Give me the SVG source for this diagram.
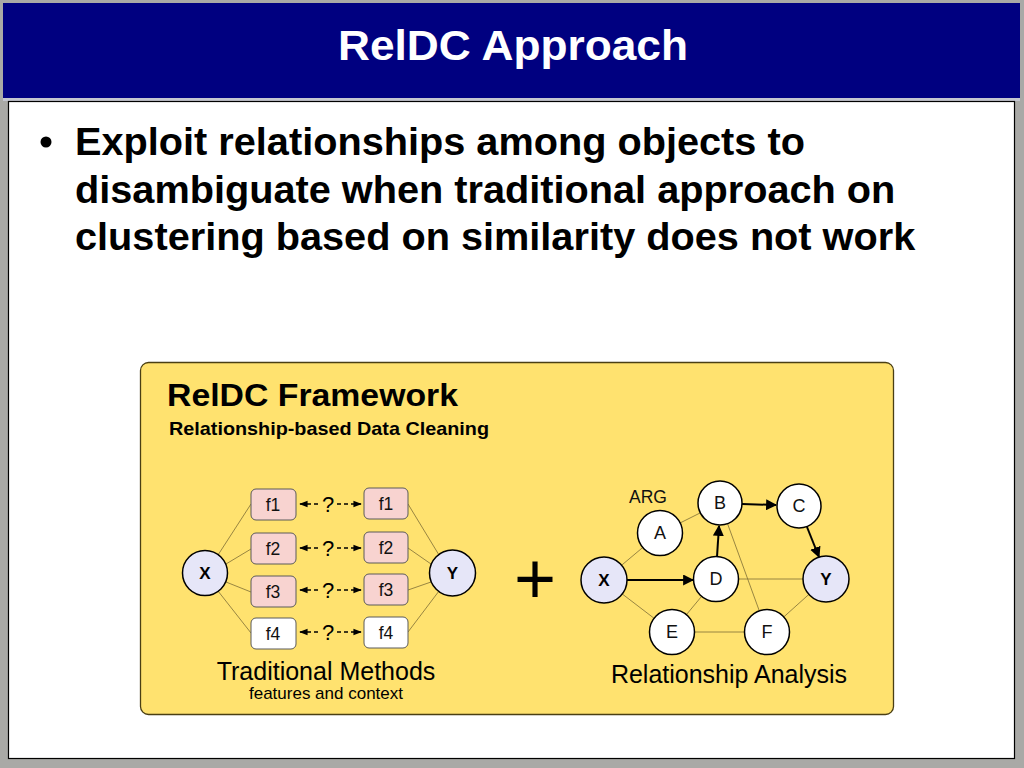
<svg xmlns="http://www.w3.org/2000/svg" width="1024" height="768" viewBox="0 0 1024 768">
<defs>
<style>
.sans{font-family:"Liberation Sans",Arial,Helvetica,sans-serif}
.box{stroke:#5a5a5a;stroke-width:1}
.pink{fill:#F8D3D0}
.wht{fill:#ffffff}
.fl{font-family:"Liberation Sans",Arial,sans-serif;font-size:17.5px;fill:#111;text-anchor:middle}
.q{font-family:"Liberation Sans",Arial,sans-serif;font-size:22px;fill:#000;text-anchor:middle}
.thin{stroke:#8c7b3c;stroke-width:0.9;fill:none}
.thick{stroke:#000;stroke-width:2;fill:none}
.dash{stroke:#000;stroke-width:1.4;stroke-dasharray:4 3;fill:none}
.node{fill:#fff;stroke:#000;stroke-width:1.5}
.key{fill:#E6E6F8;stroke:#000;stroke-width:1.5}
.nl{font-family:"Liberation Sans",Arial,sans-serif;font-size:18px;fill:#111;text-anchor:middle}
.nb{font-family:"Liberation Sans",Arial,sans-serif;font-size:17px;font-weight:bold;fill:#000;text-anchor:middle}
</style>
<marker id="sa" viewBox="0 0 10 10" refX="9" refY="5" markerWidth="6" markerHeight="6" orient="auto-start-reverse"><path d="M0,1 L10,5 L0,9 z" fill="#000"/></marker>
<marker id="big" viewBox="0 0 10 10" refX="9" refY="5" markerWidth="11" markerHeight="11" orient="auto-start-reverse" markerUnits="userSpaceOnUse"><path d="M0,0 L10,5 L0,10 z" fill="#000"/></marker>
</defs>

<!-- frame -->
<rect x="0" y="0" width="1024" height="768" fill="#a9a9a6"/>
<rect x="3" y="3" width="1017" height="96" fill="#000080"/>
<rect x="3" y="98" width="1017" height="3" fill="#c4c6d0"/>
<rect x="8.5" y="101.5" width="1006" height="657" fill="#ffffff" stroke="#000" stroke-width="1.2"/>

<text x="338" y="60" class="sans" font-size="42" font-weight="bold" fill="#fff" textLength="350" lengthAdjust="spacingAndGlyphs">RelDC Approach</text>

<g id="bullet" class="sans" font-weight="bold" font-size="39.7" fill="#000">
<circle cx="46" cy="142" r="5.5" fill="#000"/>
<text x="75" y="155">Exploit relationships among objects to</text>
<text x="75" y="203">disambiguate when traditional approach on</text>
<text x="75" y="250">clustering based on similarity does not work</text>
</g>

<g id="framework">
<rect x="140.5" y="362.5" width="753" height="352" rx="8" fill="#FFE26F" stroke="#4a3f14" stroke-width="1.3"/>
<text x="167" y="406" class="sans" font-size="32" font-weight="bold" fill="#000" textLength="291" lengthAdjust="spacingAndGlyphs">RelDC Framework</text>
<text x="169" y="435" class="sans" font-size="19" font-weight="bold" fill="#000" textLength="320" lengthAdjust="spacingAndGlyphs">Relationship-based Data Cleaning</text>
</g>

<!-- connectors -->
<g id="connectors">
<line class="thin" x1="218" y1="555" x2="251" y2="504"/>
<line class="thin" x1="226" y1="564" x2="251" y2="549"/>
<line class="thin" x1="226" y1="582" x2="251" y2="592"/>
<line class="thin" x1="218" y1="591" x2="251" y2="633"/>
<line class="thin" x1="408" y1="504" x2="439" y2="555"/>
<line class="thin" x1="408" y1="548" x2="431" y2="564"/>
<line class="thin" x1="408" y1="590" x2="431" y2="582"/>
<line class="thin" x1="408" y1="632" x2="439" y2="591"/>

<g>
<line class="dash" x1="300" y1="504" x2="319" y2="504" marker-start="url(#sa)"/>
<line class="dash" x1="337" y1="504" x2="361" y2="504" marker-end="url(#sa)"/>
<line class="dash" x1="300" y1="548" x2="319" y2="548" marker-start="url(#sa)"/>
<line class="dash" x1="337" y1="548" x2="361" y2="548" marker-end="url(#sa)"/>
<line class="dash" x1="300" y1="590" x2="319" y2="590" marker-start="url(#sa)"/>
<line class="dash" x1="337" y1="590" x2="361" y2="590" marker-end="url(#sa)"/>
<line class="dash" x1="300" y1="632" x2="319" y2="632" marker-start="url(#sa)"/>
<line class="dash" x1="337" y1="632" x2="361" y2="632" marker-end="url(#sa)"/>
</g>

<line class="thin" x1="604" y1="580" x2="660" y2="533"/>
<line class="thin" x1="660" y1="533" x2="720" y2="503"/>
<line class="thin" x1="604" y1="580" x2="672" y2="632"/>
<line class="thin" x1="672" y1="632" x2="716" y2="579"/>
<line class="thin" x1="672" y1="632" x2="767" y2="632"/>
<line class="thin" x1="767" y1="632" x2="826" y2="579"/>
<line class="thin" x1="716" y1="579" x2="826" y2="579"/>
<line class="thin" x1="720" y1="503" x2="767" y2="632"/>

<line class="thick" x1="627" y1="580" x2="693" y2="580" marker-end="url(#big)"/>
<line class="thick" x1="717" y1="557" x2="719" y2="526" marker-end="url(#big)"/>
<line class="thick" x1="742" y1="504" x2="776" y2="505" marker-end="url(#big)"/>
<line class="thick" x1="807" y1="527" x2="819" y2="557" marker-end="url(#big)"/>
</g>

<g id="X1"><circle class="key" cx="205" cy="573" r="22.5"/><text class="nb" x="205" y="579">X</text></g>
<g id="Y1"><circle class="key" cx="452.5" cy="573" r="23"/><text class="nb" x="452.5" y="579">Y</text></g>

<g id="lf1"><rect class="box pink" x="251" y="489" width="45" height="31" rx="5"/><text class="fl" x="273" y="511">f1</text></g>
<g id="lf2"><rect class="box pink" x="251" y="533" width="45" height="31" rx="5"/><text class="fl" x="273" y="555">f2</text></g>
<g id="lf3"><rect class="box pink" x="251" y="576" width="45" height="31" rx="5"/><text class="fl" x="273" y="598">f3</text></g>
<g id="lf4"><rect class="box wht" x="251" y="618" width="45" height="31" rx="5"/><text class="fl" x="273" y="640">f4</text></g>
<g id="rf1"><rect class="box pink" x="364" y="488" width="44" height="31" rx="5"/><text class="fl" x="386" y="510">f1</text></g>
<g id="rf2"><rect class="box pink" x="364" y="532" width="44" height="31" rx="5"/><text class="fl" x="386" y="554">f2</text></g>
<g id="rf3"><rect class="box pink" x="364" y="574" width="44" height="31" rx="5"/><text class="fl" x="386" y="596">f3</text></g>
<g id="rf4"><rect class="box wht" x="364" y="617" width="44" height="31" rx="5"/><text class="fl" x="386" y="639">f4</text></g>

<g>
<text class="q" x="328" y="512">?</text>
<text class="q" x="328" y="556">?</text>
<text class="q" x="328" y="598">?</text>
<text class="q" x="328" y="640">?</text>
</g>

<text x="326" y="680" class="sans" font-size="25" fill="#000" text-anchor="middle">Traditional Methods</text>
<text x="326" y="699" class="sans" font-size="17" fill="#000" text-anchor="middle">features and context</text>

<text x="535" y="603" class="sans" font-size="72" fill="#000" text-anchor="middle">+</text>

<text x="648" y="503" class="sans" font-size="17.5" fill="#111" text-anchor="middle">ARG</text>

<g id="A"><circle class="node" cx="660" cy="533" r="22.5"/><text class="nl" x="660" y="539">A</text></g>
<g id="B"><circle class="node" cx="720" cy="503" r="22"/><text class="nl" x="720" y="509">B</text></g>
<g id="C"><circle class="node" cx="799" cy="506" r="22"/><text class="nl" x="799" y="512">C</text></g>
<g id="X2"><circle class="key" cx="604" cy="580" r="23"/><text class="nb" x="604" y="586">X</text></g>
<g id="D"><circle class="node" cx="716" cy="579" r="22.5"/><text class="nl" x="716" y="585">D</text></g>
<g id="Y2"><circle class="key" cx="826" cy="579" r="23"/><text class="nb" x="826" y="585">Y</text></g>
<g id="E"><circle class="node" cx="672" cy="632" r="22.5"/><text class="nl" x="672" y="638">E</text></g>
<g id="F"><circle class="node" cx="767" cy="632" r="22.5"/><text class="nl" x="767" y="638">F</text></g>

<text x="729" y="683" class="sans" font-size="25" fill="#000" text-anchor="middle">Relationship Analysis</text>
</svg>
